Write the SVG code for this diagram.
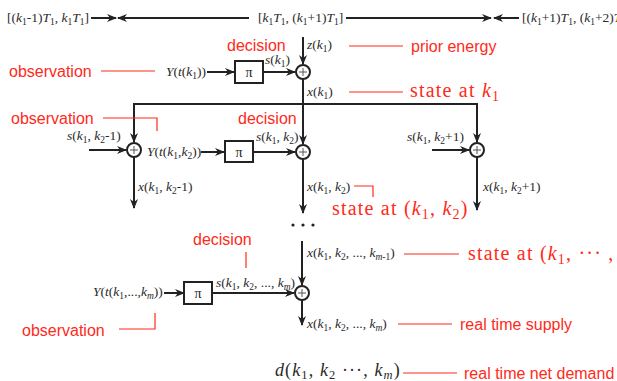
<svg xmlns="http://www.w3.org/2000/svg" width="617" height="381" viewBox="0 0 617 381">
<style>
.m{font-family:"Liberation Serif",serif;font-size:13.5px;fill:#2a2a2a}
.i{font-style:italic}
.s{font-size:9.5px}
.r{font-family:"Liberation Sans",Arial,sans-serif;font-size:16px;fill:#ff2a1a}
.rs{font-family:"Liberation Serif",serif;font-size:20px;letter-spacing:1.2px;fill:#ff2a1a}
.ln{stroke:#222;stroke-width:2;fill:none}
.a{stroke:#222;stroke-width:2;fill:none;marker-end:url(#ah)}
.rl{stroke:#ff2a1a;stroke-width:1.2;fill:none}
.c{stroke:#222;stroke-width:2;fill:#fff}
.box{stroke:#222;stroke-width:2;fill:#fff}
.pl{stroke:#555;stroke-width:1;fill:none}
.pi{font-family:"Liberation Serif",serif;font-size:14px;fill:#222;text-anchor:middle}
</style>
<defs>
<marker id="ah" viewBox="0 0 10 8" refX="9" refY="4" markerWidth="5" markerHeight="4" orient="auto" markerUnits="strokeWidth">
<path d="M0,0 L10,4 L0,8 L3,4 z" fill="#222"/>
</marker>
</defs>
<rect width="617" height="381" fill="#fff"/>

<g id="connectors">
<line class="a" x1="91" y1="18" x2="116" y2="18"/>
<line class="a" x1="249" y1="18" x2="118" y2="18"/>
<line class="a" x1="346" y1="18" x2="491" y2="18"/>
<line class="a" x1="519" y1="18" x2="494" y2="18"/>
<line class="a" x1="303" y1="37" x2="303" y2="64"/>
<line class="a" x1="207" y1="72" x2="234" y2="72"/>
<line class="a" x1="264" y1="72" x2="295" y2="72"/>
<line class="a" x1="303" y1="79" x2="303" y2="144"/>
<line class="ln" x1="134" y1="104" x2="477" y2="104"/>
<line class="a" x1="134" y1="103" x2="134" y2="142"/>
<line class="a" x1="477" y1="103" x2="477" y2="142"/>
<line class="a" x1="89" y1="150" x2="126" y2="150"/>
<line class="a" x1="201" y1="152" x2="224" y2="152"/>
<line class="a" x1="254" y1="152" x2="295" y2="152"/>
<line class="a" x1="134" y1="157" x2="134" y2="208"/>
<line class="a" x1="303" y1="159" x2="303" y2="213"/>
<line class="a" x1="432" y1="150" x2="469" y2="150"/>
<line class="a" x1="477" y1="157" x2="477" y2="210"/>
<line class="a" x1="302" y1="241" x2="302" y2="285"/>
<line class="a" x1="164" y1="293" x2="184" y2="293"/>
<line class="a" x1="213" y1="293" x2="294" y2="293"/>
<line class="a" x1="302" y1="300" x2="302" y2="325"/>
<line class="rl" x1="349" y1="46" x2="403" y2="46"/>
<line class="rl" x1="101" y1="71" x2="155" y2="71"/>
<line class="rl" x1="349" y1="92" x2="403" y2="92"/>
<polyline class="rl" points="103,118 157,118 157,131"/>
<polyline class="rl" points="354,186 373,186 373,197"/>
<line class="rl" x1="246" y1="252" x2="246" y2="268"/>
<line class="rl" x1="404" y1="254" x2="459" y2="254"/>
<polyline class="rl" points="119,329 155,329 155,313"/>
<line class="rl" x1="398" y1="324" x2="452" y2="324"/>
<line class="rl" x1="403" y1="373" x2="457" y2="373"/>
</g>

<g id="timeline-labels">
<text class="m" x="7" y="22">[(<tspan class="i">k</tspan><tspan class="s" dy="3">1</tspan><tspan dy="-3">-1)</tspan><tspan class="i">T</tspan><tspan class="s" dy="3">1</tspan><tspan dy="-3">, </tspan><tspan class="i">k</tspan><tspan class="s" dy="3">1</tspan><tspan class="i" dy="-3">T</tspan><tspan class="s" dy="3">1</tspan><tspan dy="-3">]</tspan></text>
<text class="m" x="258" y="22">[<tspan class="i">k</tspan><tspan class="s" dy="3">1</tspan><tspan class="i" dy="-3">T</tspan><tspan class="s" dy="3">1</tspan><tspan dy="-3">, (</tspan><tspan class="i">k</tspan><tspan class="s" dy="3">1</tspan><tspan dy="-3">+1)</tspan><tspan class="i">T</tspan><tspan class="s" dy="3">1</tspan><tspan dy="-3">]</tspan></text>
<text class="m" x="522" y="22">[(<tspan class="i">k</tspan><tspan class="s" dy="3">1</tspan><tspan dy="-3">+1)</tspan><tspan class="i">T</tspan><tspan class="s" dy="3">1</tspan><tspan dy="-3">, (</tspan><tspan class="i">k</tspan><tspan class="s" dy="3">1</tspan><tspan dy="-3">+2)</tspan><tspan class="i">T</tspan><tspan class="s" dy="3">1</tspan><tspan dy="-3">]</tspan></text>
</g>

<g id="node-k1">
<text class="m" x="307" y="49"><tspan class="i">z</tspan>(<tspan class="i">k</tspan><tspan class="s" dy="3">1</tspan><tspan dy="-3">)</tspan></text>
<text class="m" x="166" y="76"><tspan class="i">Y</tspan>(<tspan class="i">t</tspan>(<tspan class="i">k</tspan><tspan class="s" dy="3">1</tspan><tspan dy="-3">))</tspan></text>
<rect class="box" x="235" y="61" width="28" height="22"/>
<text class="pi" x="249" y="77">π</text>
<text class="m" x="265" y="64"><tspan class="i">s</tspan>(<tspan class="i">k</tspan><tspan class="s" dy="3">1</tspan><tspan dy="-3">)</tspan></text>
<circle class="c" cx="303" cy="72" r="7"/>
<path class="pl" d="M299,72 H307 M303,68 V76"/>
<text class="m" x="307" y="96"><tspan class="i">x</tspan>(<tspan class="i">k</tspan><tspan class="s" dy="3">1</tspan><tspan dy="-3">)</tspan></text>
</g>

<g id="node-k2-left">
<text class="m" x="67" y="140"><tspan class="i">s</tspan>(<tspan class="i">k</tspan><tspan class="s" dy="3">1</tspan><tspan dy="-3">, </tspan><tspan class="i">k</tspan><tspan class="s" dy="3">2</tspan><tspan dy="-3">-1)</tspan></text>
<circle class="c" cx="134" cy="150" r="7"/>
<path class="pl" d="M130,150 H138 M134,146 V154"/>
<text class="m" x="138" y="191"><tspan class="i">x</tspan>(<tspan class="i">k</tspan><tspan class="s" dy="3">1</tspan><tspan dy="-3">, </tspan><tspan class="i">k</tspan><tspan class="s" dy="3">2</tspan><tspan dy="-3">-1)</tspan></text>
</g>

<g id="node-k2">
<text class="m" x="147" y="156"><tspan class="i">Y</tspan>(<tspan class="i">t</tspan>(<tspan class="i">k</tspan><tspan class="s" dy="3">1</tspan><tspan dy="-3">,</tspan><tspan class="i">k</tspan><tspan class="s" dy="3">2</tspan><tspan dy="-3">))</tspan></text>
<rect class="box" x="225" y="141" width="28" height="21"/>
<text class="pi" x="239" y="157">π</text>
<text class="m" x="256" y="141"><tspan class="i">s</tspan>(<tspan class="i">k</tspan><tspan class="s" dy="3">1</tspan><tspan dy="-3">, </tspan><tspan class="i">k</tspan><tspan class="s" dy="3">2</tspan><tspan dy="-3">)</tspan></text>
<circle class="c" cx="303" cy="152" r="7"/>
<path class="pl" d="M299,152 H307 M303,148 V156"/>
<text class="m" x="307" y="191"><tspan class="i">x</tspan>(<tspan class="i">k</tspan><tspan class="s" dy="3">1</tspan><tspan dy="-3">, </tspan><tspan class="i">k</tspan><tspan class="s" dy="3">2</tspan><tspan dy="-3">)</tspan></text>
</g>

<g id="node-k2-right">
<text class="m" x="407" y="141"><tspan class="i">s</tspan>(<tspan class="i">k</tspan><tspan class="s" dy="3">1</tspan><tspan dy="-3">, </tspan><tspan class="i">k</tspan><tspan class="s" dy="3">2</tspan><tspan dy="-3">+1)</tspan></text>
<circle class="c" cx="477" cy="150" r="7"/>
<path class="pl" d="M473,150 H481 M477,146 V154"/>
<text class="m" x="483" y="191"><tspan class="i">x</tspan>(<tspan class="i">k</tspan><tspan class="s" dy="3">1</tspan><tspan dy="-3">, </tspan><tspan class="i">k</tspan><tspan class="s" dy="3">2</tspan><tspan dy="-3">+1)</tspan></text>
</g>

<g id="ellipsis">
<circle cx="293" cy="225" r="1.6" fill="#222"/>
<circle cx="303" cy="225" r="1.6" fill="#222"/>
<circle cx="313" cy="225" r="1.6" fill="#222"/>
</g>

<g id="node-km">
<text class="m" x="307" y="257"><tspan class="i">x</tspan>(<tspan class="i">k</tspan><tspan class="s" dy="3">1</tspan><tspan dy="-3">, </tspan><tspan class="i">k</tspan><tspan class="s" dy="3">2</tspan><tspan dy="-3">, ..., </tspan><tspan class="i">k</tspan><tspan class="s i" dy="3">m</tspan><tspan class="s">-1</tspan><tspan dy="-3">)</tspan></text>
<text class="m" x="93" y="296"><tspan class="i">Y</tspan>(<tspan class="i">t</tspan>(<tspan class="i">k</tspan><tspan class="s" dy="3">1</tspan><tspan dy="-3">,...,</tspan><tspan class="i">k</tspan><tspan class="s i" dy="3">m</tspan><tspan dy="-3">))</tspan></text>
<rect class="box" x="184" y="282" width="28" height="22"/>
<text class="pi" x="198" y="298">π</text>
<text class="m" x="216" y="287"><tspan class="i">s</tspan>(<tspan class="i">k</tspan><tspan class="s" dy="3">1</tspan><tspan dy="-3">, </tspan><tspan class="i">k</tspan><tspan class="s" dy="3">2</tspan><tspan dy="-3">, ..., </tspan><tspan class="i">k</tspan><tspan class="s i" dy="3">m</tspan><tspan dy="-3">)</tspan></text>
<circle class="c" cx="302" cy="293" r="7"/>
<path class="pl" d="M298,293 H306 M302,289 V297"/>
<text class="m" x="307" y="328"><tspan class="i">x</tspan>(<tspan class="i">k</tspan><tspan class="s" dy="3">1</tspan><tspan dy="-3">, </tspan><tspan class="i">k</tspan><tspan class="s" dy="3">2</tspan><tspan dy="-3">, ..., </tspan><tspan class="i">k</tspan><tspan class="s i" dy="3">m</tspan><tspan dy="-3">)</tspan></text>
</g>

<g id="demand">
<text class="m" x="275" y="376" style="font-size:18px;letter-spacing:1.1px"><tspan class="i">d</tspan>(<tspan class="i">k</tspan><tspan style="font-size:12.5px" dy="2.5">1</tspan><tspan dy="-2.5">, </tspan><tspan class="i">k</tspan><tspan style="font-size:12.5px" dy="2.5">2</tspan><tspan dy="-2.5"> ···, </tspan><tspan class="i">k</tspan><tspan class="i" style="font-size:12.5px" dy="2.5">m</tspan><tspan dy="-2.5">)</tspan></text>
</g>

<g id="annotations">
<text class="r" x="227" y="51">decision</text>
<text class="r" x="411" y="52">prior energy</text>
<text class="r" x="9" y="77">observation</text>
<text class="rs" x="410" y="97">state at <tspan class="i">k</tspan><tspan style="font-size:14px" dy="4">1</tspan></text>
<text class="r" x="11" y="124">observation</text>
<text class="r" x="238" y="124">decision</text>
<text class="rs" x="332" y="215">state at (<tspan class="i">k</tspan><tspan style="font-size:14px" dy="4">1</tspan><tspan dy="-4">, </tspan><tspan class="i">k</tspan><tspan style="font-size:14px" dy="4">2</tspan><tspan dy="-4">)</tspan></text>
<text class="r" x="193" y="245">decision</text>
<text class="rs" x="468" y="260">state at (<tspan class="i">k</tspan><tspan style="font-size:14px" dy="4">1</tspan><tspan dy="-4">, ··· ,</tspan></text>
<text class="r" x="460" y="330">real time supply</text>
<text class="r" x="22" y="336">observation</text>
<text class="r" x="464" y="379">real time net demand</text>
</g>
</svg>
